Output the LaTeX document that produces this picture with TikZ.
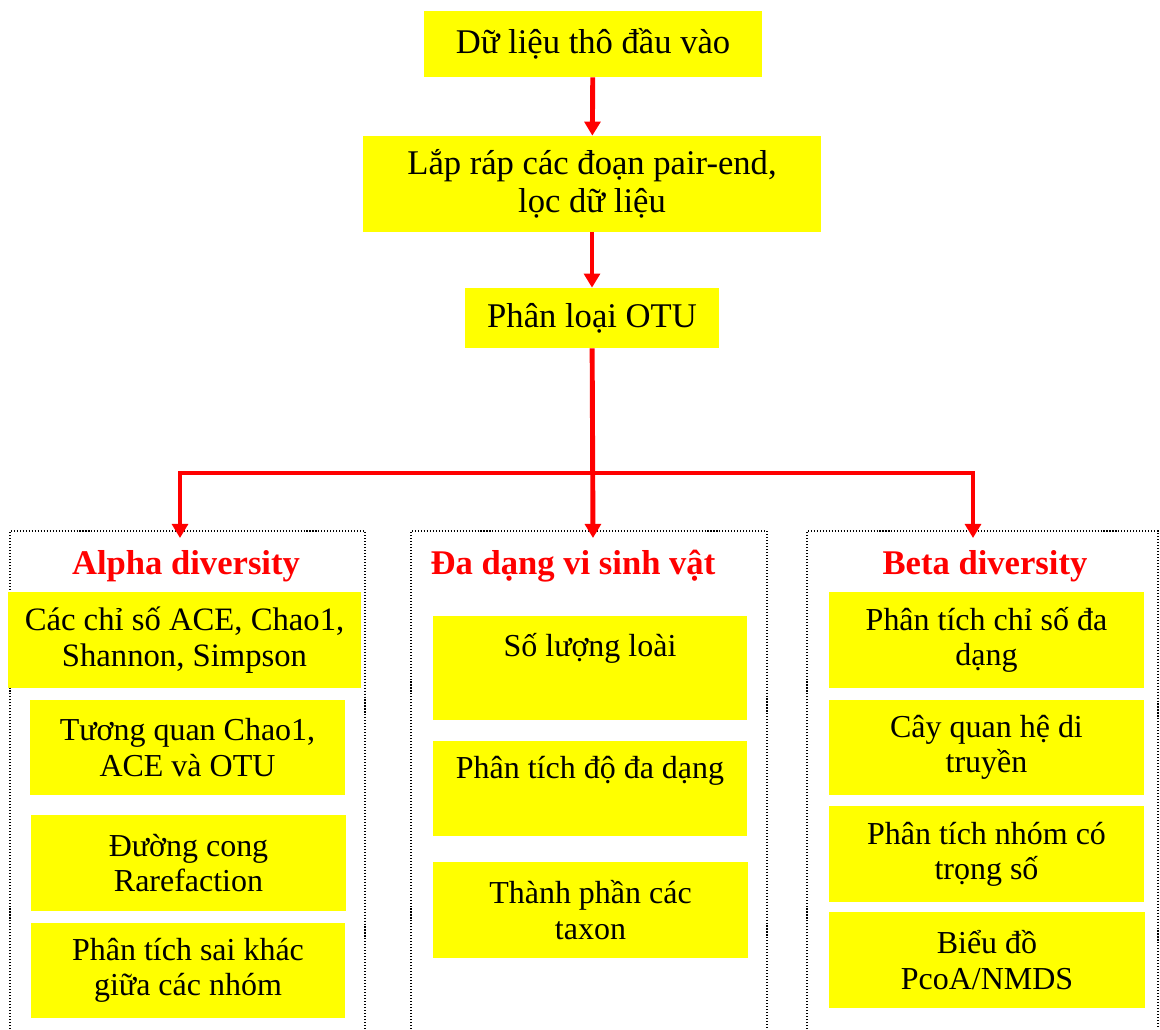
\documentclass[tikz,border=0pt]{standalone}
\usepackage{fontspec}
\setmainfont{Liberation Serif}
\usetikzlibrary{arrows.meta}

\definecolor{boxyellow}{RGB}{255,255,0}
\definecolor{arrowred}{RGB}{255,0,0}

\tikzset{
  ybox/.style={fill=boxyellow, inner sep=0pt, align=center,
    font=\fontsize{19.7}{21.6}\selectfont},
  sbox/.style={ybox, font=\fontsize{18.2}{20}\selectfont},
  ttl/.style={text=arrowred, inner sep=0pt, font=\fontsize{19.7}{21.6}\selectfont\bfseries},
  redline/.style={draw=arrowred, line width=2.8pt, miter limit=10},
  redarrow/.style={redline, -{Triangle[width=9pt,length=8pt]}},
  dotbox/.style={draw=black, line width=0.6pt, dash pattern=on 0.6pt off 1.1pt}
}

\begin{document}
\begin{tikzpicture}[x=0.02cm, y=-0.02cm]
  \useasboundingbox (0,0) rectangle (1160,1029);

  % main steps
  \node[ybox, minimum width=6.76cm, minimum height=1.32cm] (raw) at (593,44) {Dữ liệu thô đầu vào};
  \node[ybox, minimum width=9.16cm, minimum height=1.92cm] (merge) at (592,184) {Lắp ráp các đoạn pair-end,\\ lọc dữ liệu};
  \node[ybox, minimum width=5.08cm, minimum height=1.2cm] (otu) at (592,318) {Phân loại OTU};

  % dotted frames
  \draw[dotbox] (10,1029) -- (10,531) -- (365,531) -- (365,1029);
  \draw[dotbox] (411,1029) -- (411,531) -- (767,531) -- (767,1029);
  \draw[dotbox] (807,1029) -- (807,531) -- (1158,531) -- (1158,1029);

  \coordinate (split) at (593,473);
  \coordinate (alphatop) at (180,538);
  \coordinate (midtop) at (593,538);
  \coordinate (betatop) at (973,538);

  \draw[redarrow] (raw) -- (merge);
  \draw[redarrow] (merge) -- (otu);
  \draw[redarrow] (otu) -- (midtop);
  \draw[redarrow] (split) -| (alphatop);
  \draw[redarrow] (split) -| (betatop);

  % titles
  \node[ttl] (alpha) at (186,566) {Alpha diversity};
  \node[ttl] (micro) at (573,566) {Đa dạng vi sinh vật};
  \node[ttl] (beta) at (985,566) {Beta diversity};

  % alpha diversity
  \node[ybox, minimum width=7.06cm, minimum height=1.92cm, font=\fontsize{18.6}{20.5}\selectfont] (a1) at (184.5,640) {Các chỉ số ACE, Chao1,\\ Shannon, Simpson};
  \node[sbox, minimum width=6.3cm, minimum height=1.9cm] (a2) at (187.5,747.5) {Tương quan Chao1,\\ ACE và OTU};
  \node[sbox, minimum width=6.3cm, minimum height=1.92cm] (a3) at (188.5,863) {Đường cong\\ Rarefaction};
  \node[sbox, minimum width=6.3cm, minimum height=1.9cm] (a4) at (188,970.5) {Phân tích sai khác\\ giữa các nhóm};

  % vi sinh vat
  \node[sbox, minimum width=6.3cm, minimum height=2.08cm] (m1) at (590,668) {Số lượng loài\\[6pt] \mbox{}};
  \node[sbox, minimum width=6.3cm, minimum height=1.9cm] (m2) at (590,788.5) {Phân tích độ đa dạng\\[4pt] \mbox{}};
  \node[sbox, minimum width=6.3cm, minimum height=1.92cm] (m3) at (590.5,910) {Thành phần các\\ taxon};

  % beta diversity
  \node[sbox, minimum width=6.3cm, minimum height=1.92cm] (b1) at (986.5,640) {Phân tích chỉ số đa\\ dạng};
  \node[sbox, minimum width=6.3cm, minimum height=1.9cm] (b2) at (986.5,747.5) {Cây quan hệ di\\ truyền};
  \node[sbox, minimum width=6.3cm, minimum height=1.92cm] (b3) at (986.5,854) {Phân tích nhóm có\\ trọng số};
  \node[sbox, minimum width=6.32cm, minimum height=1.92cm] (b4) at (987,960) {Biểu đồ\\ PcoA/NMDS};
\end{tikzpicture}
\end{document}
